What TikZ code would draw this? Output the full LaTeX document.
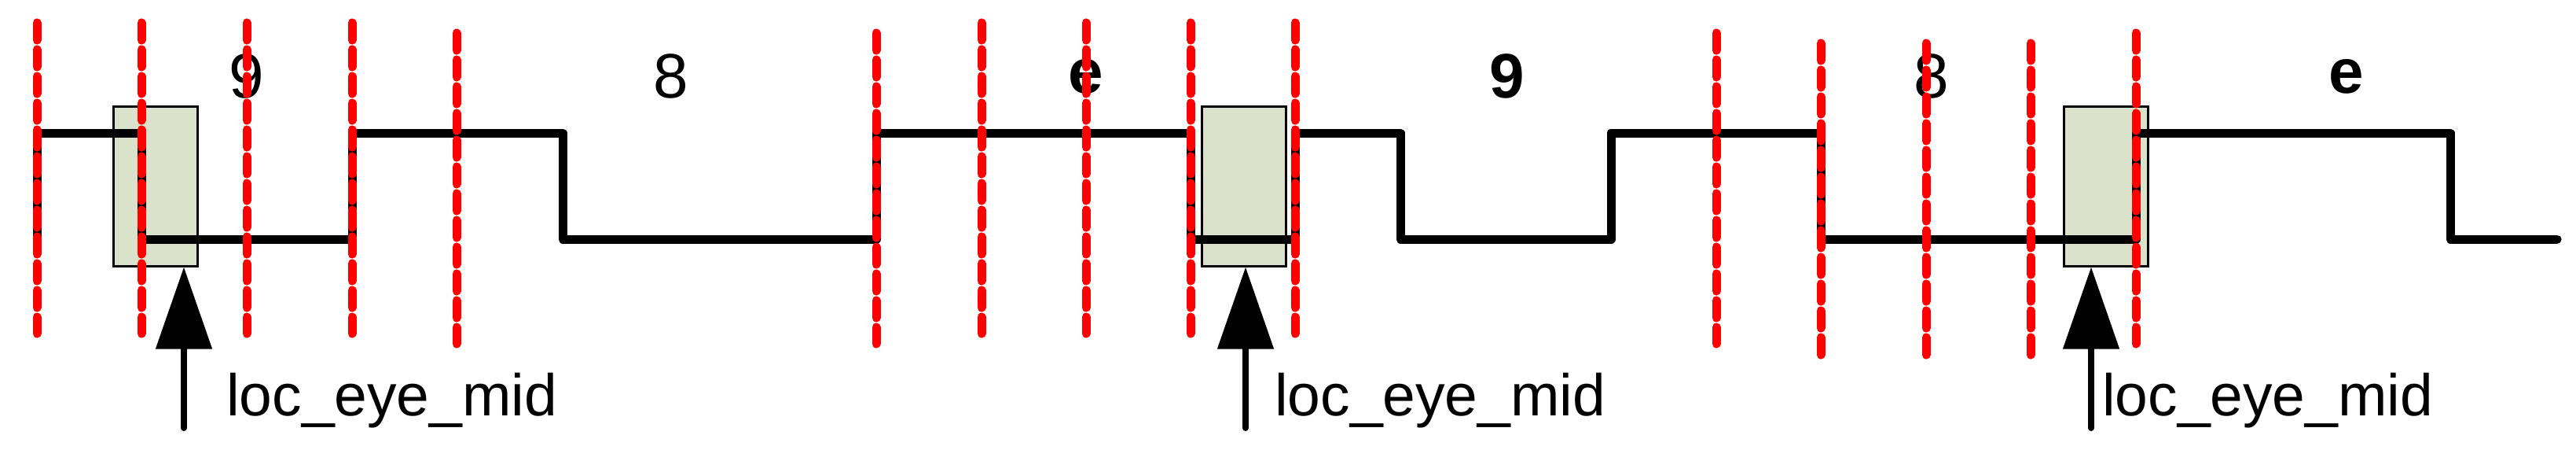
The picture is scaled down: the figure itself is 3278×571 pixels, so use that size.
\documentclass[tikz,border=0pt]{standalone}
\usepackage{fontspec}
\setmainfont{Liberation Sans}
\usetikzlibrary{arrows.meta}
\begin{document}
\begin{tikzpicture}[x=1pt,y=-1pt,
  sig/.style={line width=11pt,line join=round,line cap=round},
  reddash/.style={red,line width=11pt,line cap=round,dash pattern=on 22pt off 12pt},
  eyebox/.style={draw=black,line width=3pt,fill={rgb,255:red,219;green,226;blue,204},minimum width=107pt,minimum height=203pt,inner sep=0pt},
  pointer/.style={line width=8pt,line cap=round,-{Triangle[length=104pt,width=70pt]}},
  digit/.style={font=\fontsize{80}{90}\selectfont,inner sep=0pt},
  lbl/.style={font=\fontsize{75}{85}\selectfont,inner sep=0pt,anchor=base west}]
\useasboundingbox (0,0) rectangle (3278,571);
% eye boxes
\node[eyebox] (b1) at (197.5,236.5) {};
\node[eyebox] (b2) at (1583,236.5) {};
\node[eyebox] (b3) at (2679.5,236.5) {};
% signal
\draw[sig] (47,304) -- (47,169) -- (180,169) -- (180,304) -- (448,304) -- (448,169) -- (716,169) -- (716,304) -- (1115,304) -- (1115,169) -- (1515,169) -- (1515,304) -- (1648,304) -- (1648,169) -- (1782,169) -- (1782,304) -- (2050,304) -- (2050,169) -- (2317,169) -- (2317,304) -- (2718,304) -- (2718,169) -- (3118,169) -- (3118,304) -- (3254,304);
% digits
\node[digit] (d1) at (314,97) {9};
\node[digit] (d2) at (854,97) {8};
\node[digit] (d3) at (1382,97) {\bfseries e};
\node[digit] (d4) at (1918,97) {\bfseries 9};
\node[digit] (d5) at (2458,97) {8};
\node[digit] (d6) at (2986,97) {\bfseries e};
% red sample lines
\foreach \x in {47,180,314,448,1249,1382,1515,1648} \draw[reddash] (\x,29) -- (\x,424);
\foreach \x in {581,1115,2184,2718} \draw[reddash] (\x,42) -- (\x,437);
\foreach \x in {2317,2451,2584} \draw[reddash] (\x,55) -- (\x,452);
% pointers
\coordinate (p1) at (234,544);
\coordinate (p2) at (1585,544);
\coordinate (p3) at (2661,544);
\draw[pointer] (p1) -- (p1 |- b1.south);
\draw[pointer] (p2) -- (p2 |- b2.south);
\draw[pointer] (p3) -- (p3 |- b3.south);
\node[lbl] (l1) at (288,528) {loc\_eye\_mid};
\node[lbl] (l2) at (1622,528) {loc\_eye\_mid};
\node[lbl] (l3) at (2675,528) {loc\_eye\_mid};
\end{tikzpicture}
\end{document}
